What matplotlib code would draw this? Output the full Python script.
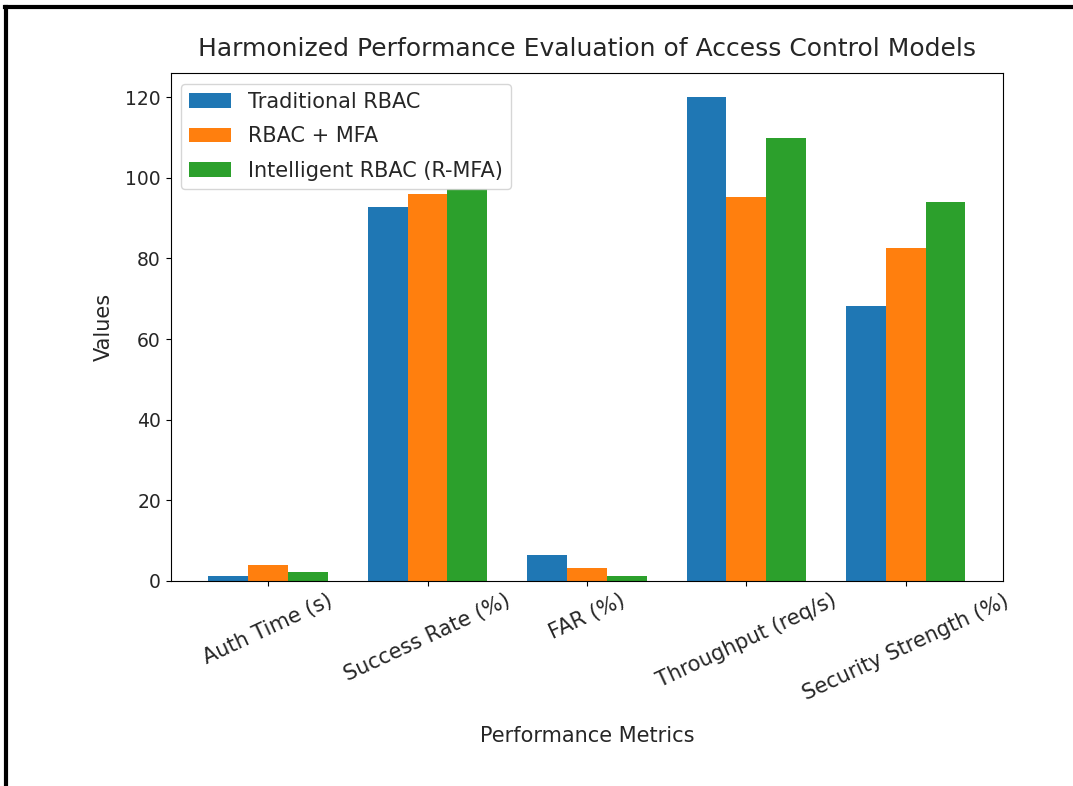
import numpy as np
import matplotlib
matplotlib.use("Agg")
import matplotlib.pyplot as plt
from matplotlib.lines import Line2D

# data
metrics = ['Auth Time (s)', 'Success Rate (%)', 'FAR (%)',
           'Throughput (req/s)', 'Security Strength (%)']
traditional_rbac = [1.1, 92.8, 6.5, 120, 68.2]
rbac_mfa = [3.9, 96.0, 3.2, 95.2, 82.5]
intelligent_rbac = [2.3, 97.3, 1.1, 110, 94.0]
series_names = ['Traditional RBAC', 'RBAC + MFA', 'Intelligent RBAC (R-MFA)']

txt = '#262626'


def make_plot():
    fig = plt.figure(figsize=(10.73, 7.86), dpi=100)
    ax = fig.add_axes([0.159, 0.261, 0.776, 0.646])

    x = np.arange(len(metrics))
    w = 0.25
    ax.bar(x - w, traditional_rbac, w, label=series_names[0], color='#1f77b4')
    ax.bar(x, rbac_mfa, w, label=series_names[1], color='#ff7f0e')
    ax.bar(x + w, intelligent_rbac, w, label=series_names[2], color='#2ca02c')

    ax.set_xticks(x)
    ax.set_xticklabels(metrics, rotation=25, fontsize=15, color=txt)
    ax.tick_params(axis='y', labelsize=13.5, labelcolor=txt)
    ax.set_xlabel('Performance Metrics', fontsize=15, color=txt, labelpad=16)
    ax.set_ylabel('Values', fontsize=15, color=txt, labelpad=8)
    ax.set_title('Harmonized Performance Evaluation of Access Control Models',
                 fontsize=18, pad=12, color=txt)
    leg = ax.legend(loc='upper left', fontsize=15, labelspacing=0.7)
    for t in leg.get_texts():
        t.set_color(txt)

    # black frame on the top and left edges of the picture
    fig.add_artist(Line2D([0.005, 1.0], [0.991, 0.991], color='black', lw=3,
                          transform=fig.transFigure))
    fig.add_artist(Line2D([0.006, 0.006], [0.0, 0.991], color='black', lw=3,
                          transform=fig.transFigure))

    fig.savefig('out.png', dpi=100)


make_plot()
